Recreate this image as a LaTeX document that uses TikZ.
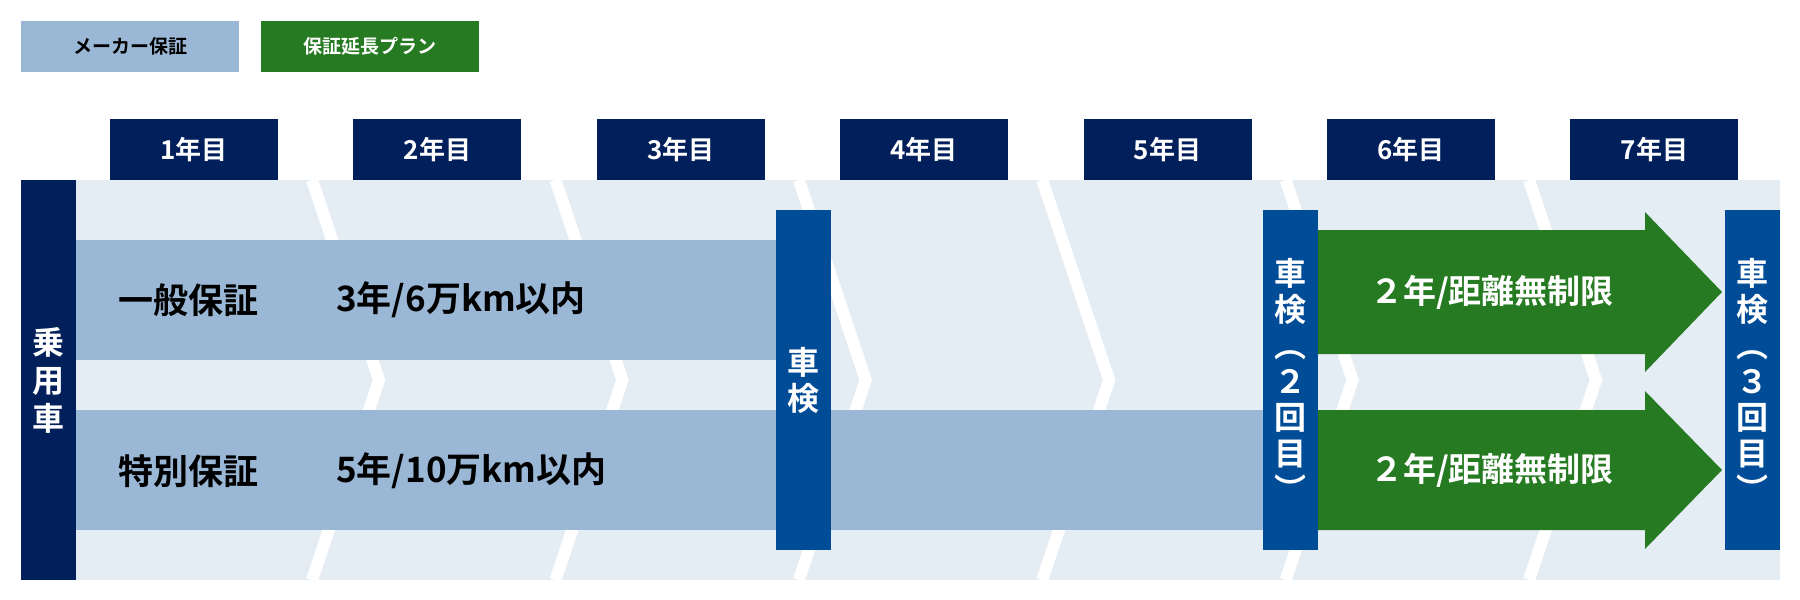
\documentclass[tikz,border=0pt]{standalone}
\usepackage{fontspec}
\setmainfont{Noto Sans CJK JP Bold}
\definecolor{navy}{HTML}{001F5B}
\definecolor{bluebar}{HTML}{9AB8D6}
\definecolor{light}{HTML}{E4ECF4}
\definecolor{shaken}{HTML}{004C97}
\definecolor{grn}{HTML}{267B22}
\begin{document}
\begin{tikzpicture}[x=1pt,y=1pt,
  legend/.style={minimum width=218pt,minimum height=51pt,inner sep=0pt,font=\fontsize{19}{19}\selectfont},
  yearbox/.style={fill=navy,text=white,minimum width=168pt,minimum height=61pt,inner sep=0pt,font=\fontsize{26}{26}\selectfont},
  bartext/.style={anchor=west,font=\fontsize{35}{35}\selectfont,inner sep=0pt},
  vbox/.style={fill=shaken,text=white,minimum width=55pt,minimum height=340pt,inner sep=0pt,align=center,font=\fontsize{32}{36}\selectfont},
  chev/.style={draw=white,line width=12pt},
  grtext/.style={text=white,font=\fontsize{33}{33}\selectfont,inner sep=0pt}]
\useasboundingbox (0,0) rectangle (1800,-600);
% legend
\node[legend,fill=bluebar,text=black] (lg1) at (130,-46.5) {メーカー保証};
\node[legend,fill=grn,text=white] (lg2) at (370,-46.5) {保証延長プラン};
% years
\foreach \i/\t in {0/1年目,1/2年目,2/3年目,3/4年目,4/5年目,5/6年目,6/7年目}
  \node[yearbox] (y\i) at ({194+243.4*\i},-149.5) {\t};
% background
\fill[light] (76,-180) rectangle (1780,-580);
\foreach \k in {0,...,5}
  \draw[chev] ({312+243.4*\k},-180) -- ({379+243.4*\k},-380) -- ({312+243.4*\k},-580);
% car label
\node[fill=navy,text=white,minimum width=55pt,minimum height=400pt,inner sep=0pt,align=center,font=\fontsize{32}{38}\selectfont] (car) at (48.5,-380) {乗\\用\\車};
% blue bars
\fill[bluebar] (76,-240) rectangle (776,-360);
\fill[bluebar] (76,-410) rectangle (1263,-530);
\node[bartext] (g1) at (118,-300) {一般保証};
\node[bartext] (g2) at (336,-300) {3年/6万km以内};
\node[bartext] (s1) at (118,-471) {特別保証};
\node[bartext] (s2) at (336,-471) {5年/10万km以内};
% shaken
\node[vbox] (sk1) at (803,-380) {車\\検};
\node[vbox] (sk2) at (1290.5,-380) {車\\検\\︵\\２\\回\\目\\︶};
\node[vbox] (sk3) at (1752,-380) {車\\検\\︵\\３\\回\\目\\︶};
% green arrows
\fill[grn] (1318,-230) -- (1645,-230) -- (1645,-212) -- (1722,-292) -- (1645,-372) -- (1645,-354) -- (1318,-354) -- cycle;
\fill[grn] (1318,-410) -- (1645,-410) -- (1645,-391) -- (1722,-470) -- (1645,-549) -- (1645,-530) -- (1318,-530) -- cycle;
\node[grtext] (a1) at (1492,-292) {２年/距離無制限};
\node[grtext] (a2) at (1492,-470) {２年/距離無制限};
\end{tikzpicture}
\end{document}
